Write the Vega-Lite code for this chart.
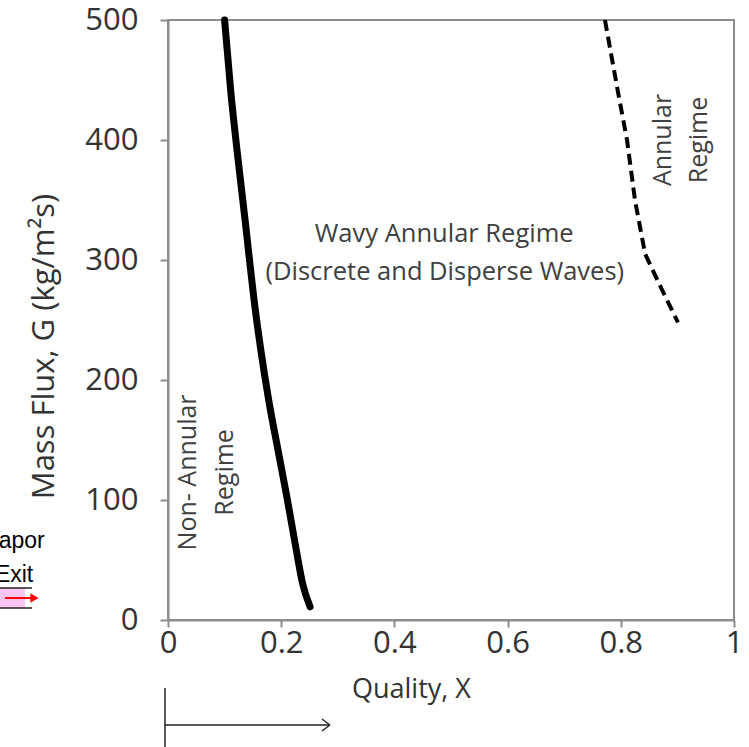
{
  "$schema": "https://vega.github.io/schema/vega-lite/v6.json",
  "width": 566,
  "height": 600,
  "autosize": "none",
  "padding": {"left": 168, "top": 20, "right": 15, "bottom": 127},
  "config": {
    "font": "Open Sans",
    "view": {"stroke": "#8c8c8c", "strokeWidth": 2},
    "axis": {
      "grid": false,
      "domainColor": "#8c8c8c",
      "domainWidth": 2,
      "tickColor": "#8c8c8c",
      "tickWidth": 2,
      "labelColor": "#333333",
      "labelFont": "Open Sans",
      "titleFont": "Open Sans"
    }
  },
  "datasets": {
    "curves": [
      {"x": 0.1, "G": 500, "series": "solid"},
      {"x": 0.111, "G": 440, "series": "solid"},
      {"x": 0.124, "G": 383, "series": "solid"},
      {"x": 0.137, "G": 330, "series": "solid"},
      {"x": 0.144, "G": 300, "series": "solid"},
      {"x": 0.152, "G": 267, "series": "solid"},
      {"x": 0.164, "G": 225, "series": "solid"},
      {"x": 0.178, "G": 183, "series": "solid"},
      {"x": 0.195, "G": 140, "series": "solid"},
      {"x": 0.211, "G": 100, "series": "solid"},
      {"x": 0.226, "G": 60, "series": "solid"},
      {"x": 0.238, "G": 30, "series": "solid"},
      {"x": 0.251, "G": 11, "series": "solid"},
      {"x": 0.772, "G": 500, "series": "dashed"},
      {"x": 0.795, "G": 440, "series": "dashed"},
      {"x": 0.811, "G": 400, "series": "dashed"},
      {"x": 0.825, "G": 350, "series": "dashed"},
      {"x": 0.843, "G": 305, "series": "dashed"},
      {"x": 0.873, "G": 275, "series": "dashed"},
      {"x": 0.901, "G": 248, "series": "dashed"}
    ],
    "regionText": [
      {"x": 0.488, "G": 322, "text": "Wavy Annular Regime"},
      {"x": 0.489, "G": 290, "text": "(Discrete and Disperse Waves)"}
    ],
    "rotText": [
      {"x": 0.035, "G": 123, "text": "Non- Annular"},
      {"x": 0.101, "G": 123, "text": "Regime"},
      {"x": 0.875, "G": 400, "text": "Annular"},
      {"x": 0.938, "G": 400, "text": "Regime"}
    ],
    "qualityText": [
      {"x": 0.325, "G": -58.3, "text": "Quality, X"}
    ],
    "exitText": [
      {"x": -0.2705, "G": 60, "text": "Vapor"},
      {"x": -0.272, "G": 31.7, "text": "Exit"}
    ],
    "blackRules": [
      {"x": -0.0053, "x2": -0.0053, "G": -56.7, "G2": -115},
      {"x": -0.0053, "x2": 0.286, "G": -87.5, "G2": -87.5},
      {"x": 0.272, "x2": 0.286, "G": -82.5, "G2": -87.5},
      {"x": 0.272, "x2": 0.286, "G": -92.5, "G2": -87.5},
      {"x": -0.31, "x2": -0.2403, "G": 26.7, "G2": 26.7},
      {"x": -0.31, "x2": -0.2403, "G": 10, "G2": 10}
    ],
    "pinkBox": [
      {"x": -0.31, "x2": -0.2527, "G": 10, "G2": 26.7}
    ],
    "redArrow": [
      {"x": -0.288, "x2": -0.24, "G": 18.3, "G2": 18.3}
    ],
    "redHead": [
      {"x": -0.236, "G": 18.3}
    ]
  },
  "layer": [
    {
      "data": {"name": "pinkBox"},
      "mark": {"type": "rect", "color": "#f9c6f4"},
      "encoding": {
        "x": {"field": "x", "type": "quantitative", "scale": {"domain": [0, 1], "nice": false},
          "axis": {"title": null, "values": [0, 0.2, 0.4, 0.6, 0.8, 1], "format": ".1~f", "labelFontSize": 31, "tickSize": 7, "labelPadding": 1, "labelFlush": false, "labelOverlap": false}},
        "x2": {"field": "x2"},
        "y": {"field": "G", "type": "quantitative", "scale": {"domain": [0, 500], "nice": false},
          "axis": {"title": "Mass Flux, G (kg/m²s)", "values": [0, 100, 200, 300, 400, 500], "format": "d", "labelFontSize": 31, "tickSize": 8, "labelPadding": 22, "titleFontSize": 31, "titleFontWeight": "normal", "titleColor": "#333333", "titlePadding": 24, "titleY": 326}},
        "y2": {"field": "G2"}
      }
    },
    {
      "data": {"name": "curves"},
      "transform": [{"filter": "datum.series === 'solid'"}],
      "mark": {"type": "line", "color": "black", "strokeWidth": 7, "interpolate": "monotone", "strokeCap": "round"},
      "encoding": {
        "x": {"field": "x", "type": "quantitative"},
        "y": {"field": "G", "type": "quantitative"}
      }
    },
    {
      "data": {"name": "curves"},
      "transform": [{"filter": "datum.series === 'dashed'"}],
      "mark": {"type": "line", "color": "black", "strokeWidth": 4, "strokeDash": [11, 6]},
      "encoding": {
        "x": {"field": "x", "type": "quantitative"},
        "y": {"field": "G", "type": "quantitative"}
      }
    },
    {
      "data": {"name": "regionText"},
      "mark": {"type": "text", "fontSize": 25.5, "color": "#404040", "align": "center", "baseline": "middle"},
      "encoding": {
        "x": {"field": "x", "type": "quantitative"},
        "y": {"field": "G", "type": "quantitative"},
        "text": {"field": "text"}
      }
    },
    {
      "data": {"name": "rotText"},
      "mark": {"type": "text", "fontSize": 25, "color": "#404040", "align": "center", "baseline": "middle", "angle": 270},
      "encoding": {
        "x": {"field": "x", "type": "quantitative"},
        "y": {"field": "G", "type": "quantitative"},
        "text": {"field": "text"}
      }
    },
    {
      "data": {"name": "qualityText"},
      "mark": {"type": "text", "fontSize": 27, "color": "#333333", "align": "left", "baseline": "middle"},
      "encoding": {
        "x": {"field": "x", "type": "quantitative"},
        "y": {"field": "G", "type": "quantitative"},
        "text": {"field": "text"}
      }
    },
    {
      "data": {"name": "exitText"},
      "mark": {"type": "text", "fontSize": 23, "font": "Liberation Sans", "color": "black", "align": "center", "baseline": "alphabetic"},
      "encoding": {
        "x": {"field": "x", "type": "quantitative"},
        "y": {"field": "G", "type": "quantitative"},
        "text": {"field": "text"}
      }
    },
    {
      "data": {"name": "blackRules"},
      "mark": {"type": "rule", "color": "#222222", "strokeWidth": 1.5},
      "encoding": {
        "x": {"field": "x", "type": "quantitative"},
        "x2": {"field": "x2"},
        "y": {"field": "G", "type": "quantitative"},
        "y2": {"field": "G2"}
      }
    },
    {
      "data": {"name": "redArrow"},
      "mark": {"type": "rule", "color": "#ff0000", "strokeWidth": 2},
      "encoding": {
        "x": {"field": "x", "type": "quantitative"},
        "x2": {"field": "x2"},
        "y": {"field": "G", "type": "quantitative"},
        "y2": {"field": "G2"}
      }
    },
    {
      "data": {"name": "redHead"},
      "mark": {"type": "point", "shape": "triangle-right", "filled": true, "color": "#ff0000", "opacity": 1, "size": 90},
      "encoding": {
        "x": {"field": "x", "type": "quantitative"},
        "y": {"field": "G", "type": "quantitative"}
      }
    }
  ]
}
